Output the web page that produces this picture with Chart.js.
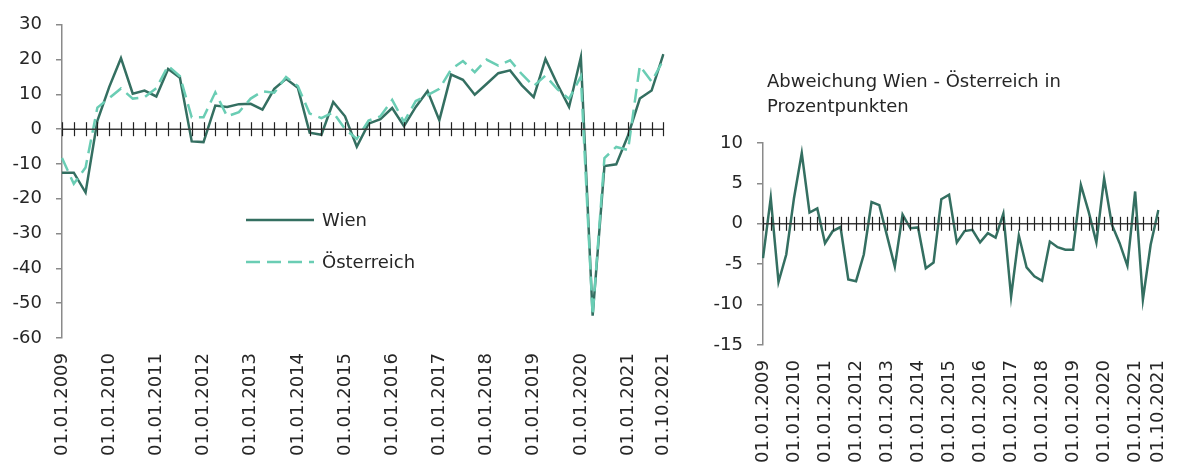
<!DOCTYPE html>
<html>
<head>
<meta charset="utf-8">
<script src="https://cdn.jsdelivr.net/npm/chart.js@4.4.1/dist/chart.umd.min.js"></script>
<style>
  body { margin: 0; background: #fff; }
  #wrap { position: relative; width: 1195px; height: 466px; font-family: 'DejaVu Sans', sans-serif; color: #262626; }
  canvas { position: absolute; top: 0; }
  #left { left: 0; }
  #right { left: 700px; }
  .legend { position: absolute; left: 246px; font-size: 18px; }
  .legend svg { position: absolute; left: 0; top: 0; }
  .legend span { position: absolute; left: 76px; top: -11px; white-space: nowrap; }
  #title { position: absolute; left: 767px; top: 68px; font-size: 18px; line-height: 25px; }
</style>
</head>
<body>
<div id="wrap">
  <canvas id="left" width="700" height="466"></canvas>
  <canvas id="right" width="495" height="466"></canvas>
  <div class="legend" style="top:220px">
    <svg width="70" height="4" style="top:-2px"><line x1="0" y1="2" x2="68" y2="2" stroke="#346F61" stroke-width="2.5"/></svg>
    <span>Wien</span>
  </div>
  <div class="legend" style="top:262px">
    <svg width="70" height="4" style="top:-2px"><line x1="0" y1="2" x2="68" y2="2" stroke="#6ACDB4" stroke-width="2.5" stroke-dasharray="14 7"/></svg>
    <span>Österreich</span>
  </div>
  <div id="title">Abweichung Wien - Österreich in<br>Prozentpunkten</div>
</div>
<script>
// Quartale 2009 - 2021
const quartale = [
  '01.01.2009', '01.04.2009', '01.07.2009', '01.10.2009',
  '01.01.2010', '01.04.2010', '01.07.2010', '01.10.2010',
  '01.01.2011', '01.04.2011', '01.07.2011', '01.10.2011',
  '01.01.2012', '01.04.2012', '01.07.2012', '01.10.2012',
  '01.01.2013', '01.04.2013', '01.07.2013', '01.10.2013',
  '01.01.2014', '01.04.2014', '01.07.2014', '01.10.2014',
  '01.01.2015', '01.04.2015', '01.07.2015', '01.10.2015',
  '01.01.2016', '01.04.2016', '01.07.2016', '01.10.2016',
  '01.01.2017', '01.04.2017', '01.07.2017', '01.10.2017',
  '01.01.2018', '01.04.2018', '01.07.2018', '01.10.2018',
  '01.01.2019', '01.04.2019', '01.07.2019', '01.10.2019',
  '01.01.2020', '01.04.2020', '01.07.2020', '01.10.2020',
  '01.01.2021', '01.04.2021', '01.07.2021', '01.10.2021'
];

const wien = [
  -12.5, -12.5, -18.2, 2.4, 12.1, 20.4, 10.2, 11.1, 9.4, 17.3, 14.8, -3.5, -3.7,
  6.8, 6.4, 7.2, 7.3, 5.6, 11.6, 14.5, 11.9, -1.0, -1.6, 7.8, 3.7, -5.0,
  1.6, 2.9, 6.1, 0.9, 6.4, 11.0, 2.6, 15.7, 14.2, 9.9, 13.0, 16.1, 16.9,
  12.6, 9.2, 20.2, 13.0, 6.4, 20.7, -53.6, -10.6, -10.1, -1.8, 8.8, 11.1, 21.6
];

const oesterreich = [
  -8.3, -15.7, -11.0, 6.2, 8.9, 11.7, 8.8, 9.2, 11.8, 18.2, 15.2, 3.4, 3.4,
  10.6, 3.7, 4.9, 8.8, 10.9, 10.5, 15.0, 12.4, 4.5, 3.2, 4.8, 0.1, -2.8,
  2.5, 3.7, 8.4, 2.1, 8.1, 9.8, 11.6, 17.2, 19.6, 16.4, 20.0, 18.3, 19.8,
  15.8, 12.4, 15.4, 11.5, 8.7, 15.1, -53.5, -8.3, -5.1, -6.0, 18.2, 13.7, 19.9
];

// Abweichung in Prozentpunkten
const abweichung = [
  -4.25, 3.2, -7.2, -3.8, 3.2, 8.75, 1.4, 1.9, -2.4, -0.9, -0.4, -6.9, -7.1,
  -3.8, 2.7, 2.3, -1.5, -5.3, 1.15, -0.55, -0.45, -5.5, -4.8, 3.05, 3.6, -2.3,
  -0.9, -0.75, -2.3, -1.15, -1.7, 1.25, -9.0, -1.45, -5.4, -6.5, -7.05, -2.2, -2.9,
  -3.2, -3.2, 4.8, 1.5, -2.3, 5.6, -0.1, -2.4, -5.2, 4.0, -9.4, -2.6, 1.7
];

const FONT = { family: "'DejaVu Sans', sans-serif", size: 18 };
const TEXT = '#262626';

// Nulllinie mit Teilstrichen (Excel-Stil)
const nullAchse = {
  id: 'nullAchse',
  afterDatasetsDraw(chart) {
    const { ctx, chartArea, scales } = chart;
    const y0 = scales.y.getPixelForValue(0);
    ctx.save();
    ctx.strokeStyle = '#3a3a3a';
    ctx.lineWidth = 1.5;
    ctx.beginPath();
    ctx.moveTo(chartArea.left, y0);
    ctx.lineTo(chartArea.right, y0);
    ctx.stroke();
    ctx.lineWidth = 1.2;
    ctx.strokeStyle = '#222';
    for (let i = 0; i < quartale.length; i++) {
      const x = Math.round(scales.x.getPixelForValue(i)) + 0.5;
      ctx.beginPath();
      ctx.moveTo(x, y0 - 7);
      ctx.lineTo(x, y0 + 7);
      ctx.stroke();
    }
    ctx.restore();
  }
};

function xAchse(h) {
  return {
    afterFit: s => { s.height = h; },
    grid: { display: false, drawTicks: false },
    border: { display: false },
    ticks: {
      autoSkip: false,
      maxRotation: 90,
      minRotation: 90,
      padding: 15,
      color: TEXT,
      font: FONT,
      callback: function(value, index) {
        return (index % 4 === 0 || index === quartale.length - 1) ? quartale[index] : '';
      }
    }
  };
}

function yAchse(w, min, max, step) {
  return {
    min: min,
    max: max,
    afterFit: s => { s.width = w; },
    grid: { drawOnChartArea: false, drawTicks: true, tickLength: 6, color: '#8a8a8a', lineWidth: 1.5 },
    border: { display: true, color: '#8a8a8a', width: 1.5 },
    ticks: { stepSize: step, padding: 14, color: TEXT, font: FONT }
  };
}

function initLinks() {
  new Chart(document.getElementById('left'), {
    type: 'line',
    data: {
      labels: quartale,
      datasets: [
        {
          label: 'Österreich',
          data: oesterreich,
          borderColor: '#6ACDB4',
          borderWidth: 2.5,
          borderDash: [14, 7],
          pointRadius: 0,
          tension: 0
        },
        {
          label: 'Wien',
          data: wien,
          borderColor: '#346F61',
          borderWidth: 2.5,
          pointRadius: 0,
          tension: 0
        }
      ]
    },
    options: {
      responsive: false,
      animation: false,
      layout: { padding: { top: 24, right: 18, left: 0, bottom: 0 } },
      plugins: { legend: { display: false }, tooltip: { enabled: false } },
      scales: {
        x: xAchse(128),
        y: yAchse(62, -60, 30, 10)
      }
    },
    plugins: [nullAchse]
  });
}

function initRechts() {
  new Chart(document.getElementById('right'), {
    type: 'line',
    data: {
      labels: quartale,
      datasets: [{
        label: 'Abweichung',
        data: abweichung,
        borderColor: '#346F61',
        borderWidth: 2.5,
        pointRadius: 0,
        tension: 0
      }]
    },
    options: {
      responsive: false,
      animation: false,
      layout: { padding: { top: 143, right: 10, left: 0, bottom: 0 } },
      plugins: { legend: { display: false }, tooltip: { enabled: false } },
      scales: {
        x: xAchse(121),
        y: yAchse(63, -15, 10, 5)
      }
    },
    plugins: [nullAchse]
  });
}

initLinks();
initRechts();
</script>
</body>
</html>
